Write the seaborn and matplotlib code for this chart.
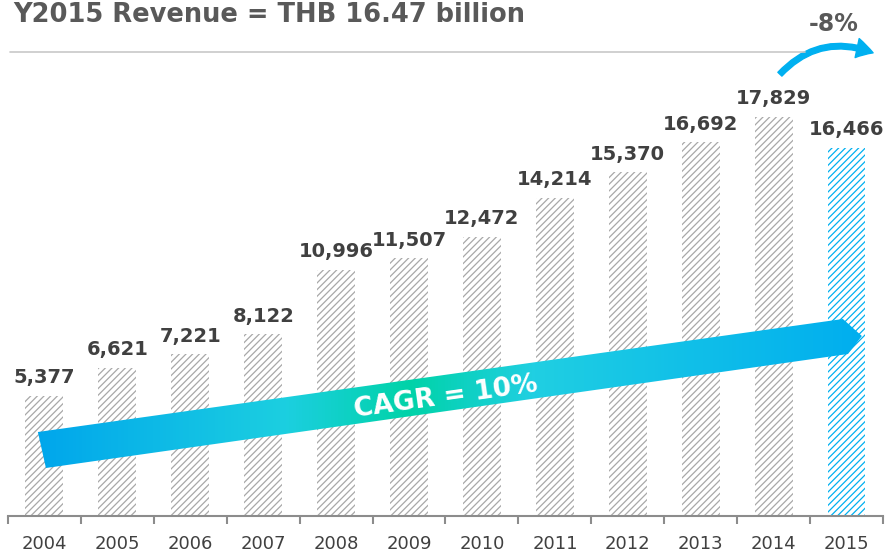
import numpy as np
import pandas as pd
import matplotlib
matplotlib.use("Agg")
import matplotlib.pyplot as plt
import seaborn as sns
from matplotlib.patches import Polygon, FancyArrowPatch
from matplotlib.colors import LinearSegmentedColormap
from matplotlib.lines import Line2D

years = ["2004", "2005", "2006", "2007", "2008", "2009", "2010",
         "2011", "2012", "2013", "2014", "2015"]
revenue = [5377, 6621, 7221, 8122, 10996, 11507, 12472,
           14214, 15370, 16692, 17829, 16466]

GREY_TXT = "#404040"
HATCH_GREY = "#a8a8a8"
BLUE = "#00b0f0"

sns.set_theme(style="white")
plt.rcParams["font.family"] = ["DejaVu Sans"]
plt.rcParams["hatch.linewidth"] = 0.9

df = pd.DataFrame({"year": years, "revenue": revenue})

fig = plt.figure(figsize=(8.87, 5.56), dpi=100)
ax = fig.add_axes([8 / 887, 40 / 556, 875 / 887, 516 / 556])

sns.barplot(data=df, x="year", y="revenue", color="white", width=0.52,
            saturation=1, ax=ax)

for i, bar in enumerate(ax.patches):
    c = BLUE if i == len(years) - 1 else HATCH_GREY
    bar.set_facecolor("white")
    bar.set_edgecolor(c)
    bar.set_linewidth(0)
    bar.set_hatch("/////")

# value labels
for i, v in enumerate(revenue):
    ax.annotate(f"{v:,}", (i, v), xytext=(0, 9), textcoords="offset points",
                ha="center", va="baseline", fontsize=14, fontweight="bold",
                color=GREY_TXT)

ax.set_xlim(-0.5, len(years) - 0.5)
ax.set_ylim(0, 23057)
ax.set_xlabel("")
ax.set_ylabel("")
ax.set_yticks([])
for s in ["top", "right", "left"]:
    ax.spines[s].set_visible(False)
ax.spines["bottom"].set_color("#8c8c8c")
ax.spines["bottom"].set_linewidth(1.5)
ax.tick_params(axis="x", which="major", length=0, labelsize=13,
               labelcolor=GREY_TXT, pad=14)
ax.set_xticks(np.arange(-0.5, len(years)), minor=True)
ax.tick_params(axis="x", which="minor", length=6, width=1.5,
               color="#8c8c8c", bottom=True)

# CAGR gradient arrow
arrow_pts = [(-0.09, 3753), (10.95, 8803), (11.21, 8043), (11.02, 7239),
             (0.02, 2145)]
poly = Polygon(arrow_pts, closed=True, facecolor="none", edgecolor="none",
               transform=ax.transData)
ax.add_patch(poly)
cmap = LinearSegmentedColormap.from_list(
    "cagr", [(0.0, "#00a6ec"), (0.3, "#1ccfe0"), (0.45, "#00d3a8"),
             (0.6, "#20cfe2"), (1.0, "#00aeef")])
grad = np.linspace(0, 1, 256).reshape(1, -1)
img = ax.imshow(grad, cmap=cmap, aspect="auto",
                extent=(-0.1, 11.25, 2100, 8850), origin="lower", zorder=3)
img.set_clip_path(poly)
ax.text(5.5, 5300, "CAGR = 10%", color="white", fontsize=19,
        fontweight="bold", rotation=8, ha="center", va="center", zorder=4)

# -8% curved arrow
ax.add_patch(FancyArrowPatch((10.06, 19650), (11.4, 20650),
                             connectionstyle="arc3,rad=-0.35",
                             arrowstyle="simple,head_length=12,head_width=14,tail_width=4",
                             color=BLUE, zorder=5, clip_on=False))
ax.text(10.83, 22000, "-8%", color="#595959", fontsize=17, fontweight="bold",
        ha="center", va="center")

# title and separator line
fig.text(13 / 887, (556 - 22) / 556, "Y2015 Revenue = THB 16.47 billion",
         fontsize=18.5, fontweight="bold", color="#595959", ha="left",
         va="baseline")
fig.add_artist(Line2D([10 / 887, 805 / 887], [(556 - 52) / 556] * 2,
                      color="#c8c8c8", linewidth=1.2,
                      transform=fig.transFigure))

fig.savefig("out.png", dpi=100)
